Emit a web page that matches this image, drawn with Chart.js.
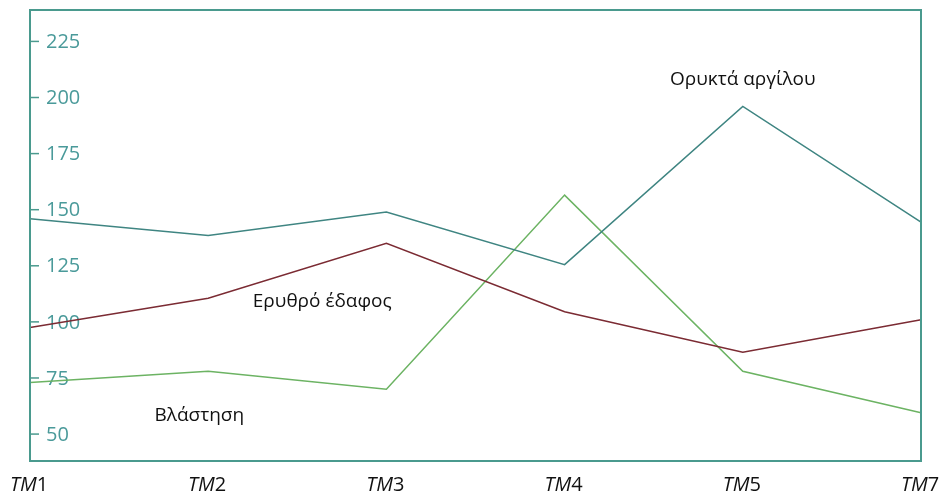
<!DOCTYPE html>
<html>
<head>
<meta charset="utf-8">
<script src="https://cdn.jsdelivr.net/npm/chart.js@4/dist/chart.umd.min.js"></script>
<style>
  html, body { margin: 0; padding: 0; background: #fff; }
  #wrap { width: 946px; height: 495px; }
</style>
</head>
<body>
<div id="wrap"><canvas id="chart"></canvas></div>
<script>
const labels = ["TM1", "TM2", "TM3", "TM4", "TM5", "TM7"];
const clay = [146, 138.5, 149, 125.5, 196, 144.5];
const redSoil = [97.5, 110.5, 135, 104.5, 86.5, 101];
const vegetation = [73, 78, 70, 156.5, 78, 59.5];
const yTicks = [50, 75, 100, 125, 150, 175, 200, 225];

// annotation text: [text, x index, y value]
const notes = [
  ["Ορυκτά αργίλου", 4, 208],
  ["Ερυθρό έδαφος", 1.64, 109],
  ["Βλάστηση", 0.95, 58.2],
];

const teal = "#4a9a8e";
const font = "'Open Sans', 'Noto Sans', sans-serif";

const decor = {
  id: "decor",
  beforeDatasetsDraw(chart) {
    // y ticks drawn inside, under the lines
    const { ctx, chartArea: a, scales } = chart;
    const y = scales.y;
    ctx.save();
    ctx.fillStyle = "#4a9a9a";
    ctx.strokeStyle = teal;
    ctx.lineWidth = 1.5;
    ctx.font = "20px " + font;
    ctx.textBaseline = "middle";
    ctx.textAlign = "left";
    yTicks.forEach((v) => {
      const py = y.getPixelForValue(v);
      ctx.beginPath();
      ctx.moveTo(a.left, py);
      ctx.lineTo(a.left + 9, py);
      ctx.stroke();
      ctx.fillText(String(v), a.left + 16, py + 1);
    });
    ctx.restore();
  },
  afterDraw(chart) {
    const { ctx, chartArea: a, scales } = chart;
    const x = scales.x, y = scales.y;
    ctx.save();
    // frame
    ctx.strokeStyle = teal;
    ctx.lineWidth = 2;
    ctx.strokeRect(a.left, a.top, a.right - a.left, a.bottom - a.top);

    // x labels: italic TM + upright number
    ctx.fillStyle = "#111";
    ctx.textBaseline = "alphabetic";
    labels.forEach((lab, i) => {
      const px = x.getPixelForValue(i);
      const head = lab.slice(0, 2), num = lab.slice(2);
      ctx.font = "italic 20px " + font;
      const w1 = ctx.measureText(head).width;
      ctx.font = "20px " + font;
      const w2 = ctx.measureText(num).width;
      const start = px - (w1 + w2) / 2 - 1;
      ctx.font = "italic 20px " + font;
      ctx.fillText(head, start, 491);
      ctx.font = "20px " + font;
      ctx.fillText(num, start + w1, 491);
    });

    // series names
    ctx.fillStyle = "#111";
    ctx.font = "19px " + font;
    ctx.textAlign = "center";
    ctx.textBaseline = "middle";
    notes.forEach(([txt, xi, yv]) => {
      ctx.fillText(txt, x.getPixelForValue(xi), y.getPixelForValue(yv));
    });
    ctx.restore();
  },
};

new Chart(document.getElementById("chart"), {
  type: "line",
  data: {
    labels: labels,
    datasets: [
      { label: "Ορυκτά αργίλου", data: clay, borderColor: "#3f8582", borderWidth: 1.5, pointRadius: 0, tension: 0, fill: false },
      { label: "Ερυθρό έδαφος", data: redSoil, borderColor: "#7b2b33", borderWidth: 1.5, pointRadius: 0, tension: 0, fill: false },
      { label: "Βλάστηση", data: vegetation, borderColor: "#6cb363", borderWidth: 1.5, pointRadius: 0, tension: 0, fill: false },
    ],
  },
  options: {
    responsive: true,
    maintainAspectRatio: false,
    animation: false,
    layout: { padding: { left: 30, right: 25, top: 10, bottom: 34 } },
    plugins: { legend: { display: false }, tooltip: { enabled: false } },
    scales: {
      x: {
        type: "category",
        offset: false,
        display: false,
      },
      y: {
        min: 38,
        max: 239,
        display: false,
      },
    },
  },
  plugins: [decor],
});
</script>
</body>
</html>
